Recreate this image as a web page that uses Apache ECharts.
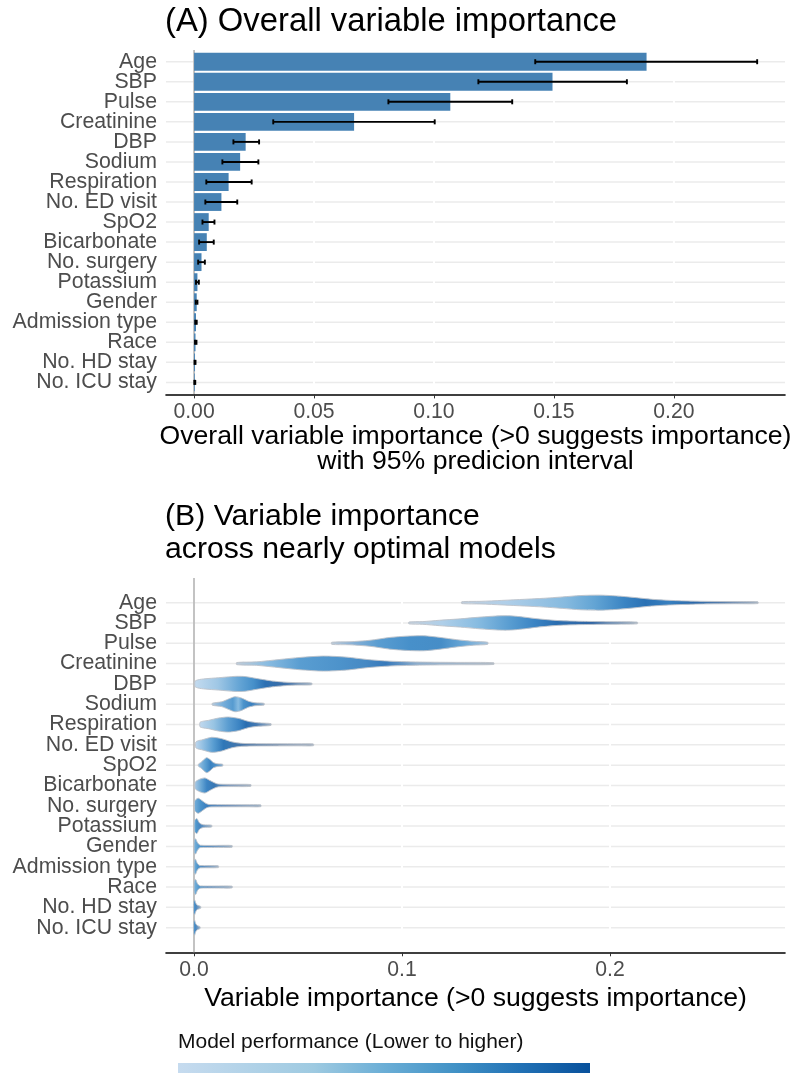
<!DOCTYPE html>
<html><head><meta charset="utf-8">
<script src="https://cdn.jsdelivr.net/npm/echarts@6/dist/echarts.min.js"></script>
<style>html,body{margin:0;padding:0;background:#fff}#c{width:795px;height:1073px}</style>
</head><body><div id="c"></div>
<script>
const categories = ['Age','SBP','Pulse','Creatinine','DBP','Sodium','Respiration','No. ED visit','SpO2','Bicarbonate','No. surgery','Potassium','Gender','Admission type','Race','No. HD stay','No. ICU stay'];
const importance = [0.1886,0.1494,0.1068,0.0667,0.0215,0.0192,0.0144,0.0114,0.0061,0.0053,0.0031,0.0014,0.0011,0.0008,0.0006,0.0004,0.0003];
const ciLow  = [0.1422,0.1185,0.0810,0.0330,0.0164,0.0118,0.0051,0.0047,0.0035,0.0021,0.0017,0.0008,0.0007,0.0005,0.0004,0.0002,0.0001];
const ciHigh = [0.2347,0.1804,0.1326,0.1003,0.0271,0.0268,0.0240,0.0180,0.0085,0.0082,0.0045,0.0020,0.0014,0.0011,0.0010,0.0006,0.0005];
const ticksA = [0, 0.05, 0.10, 0.15, 0.20];
const ticksB = [0, 0.1, 0.2];
// violin outlines: [importance value, relative density]
const violinProfiles = [
  [[0.1287,0.12],[0.138,0.18],[0.148,0.3],[0.159,0.45],[0.168,0.58],[0.177,0.76],[0.186,0.95],[0.195,1.0],[0.203,0.9],[0.212,0.68],[0.22,0.45],[0.229,0.3],[0.24,0.2],[0.25,0.16],[0.26,0.14],[0.2711,0.12]],
  [[0.1033,0.12],[0.11,0.18],[0.118,0.36],[0.128,0.55],[0.1375,0.78],[0.147,0.95],[0.152,0.95],[0.158,0.8],[0.165,0.56],[0.175,0.32],[0.186,0.22],[0.198,0.17],[0.2131,0.12]],
  [[0.0662,0.14],[0.075,0.2],[0.0846,0.4],[0.0942,0.78],[0.1023,0.95],[0.1103,1.0],[0.1183,0.78],[0.1263,0.48],[0.1343,0.26],[0.1412,0.14]],
  [[0.0205,0.14],[0.030,0.23],[0.0413,0.55],[0.051,0.82],[0.0622,1.0],[0.0734,0.86],[0.083,0.55],[0.0942,0.32],[0.11,0.2],[0.126,0.16],[0.1441,0.12]],
  [[0.0005,0.35],[0.002,0.55],[0.0053,0.68],[0.0117,0.82],[0.0197,1.0],[0.0245,0.98],[0.0309,0.68],[0.0373,0.4],[0.0438,0.23],[0.050,0.16],[0.0566,0.12]],
  [[0.0088,0.13],[0.0133,0.32],[0.0165,0.68],[0.0197,1.0],[0.0229,0.82],[0.0261,0.4],[0.0293,0.2],[0.0337,0.12]],
  [[0.0029,0.3],[0.0045,0.45],[0.0069,0.55],[0.0117,0.86],[0.0165,1.0],[0.0213,0.82],[0.0261,0.42],[0.0309,0.23],[0.037,0.12]],
  [[0.0008,0.35],[0.002,0.55],[0.0037,0.65],[0.0085,1.0],[0.0133,0.82],[0.0181,0.4],[0.0229,0.2],[0.03,0.15],[0.04,0.14],[0.05,0.13],[0.0574,0.12]],
  [[0.0021,0.13],[0.0035,0.4],[0.0045,0.68],[0.0061,1.0],[0.0077,0.75],[0.0093,0.35],[0.0109,0.2],[0.0138,0.12]],
  [[0.0005,0.4],[0.0015,0.65],[0.0029,0.85],[0.0053,1.0],[0.0077,0.65],[0.0101,0.32],[0.0117,0.18],[0.018,0.15],[0.0273,0.12]],
  [[0.0003,0.6],[0.0012,0.9],[0.0021,1.0],[0.0033,0.8],[0.0045,0.55],[0.0061,0.26],[0.0075,0.16],[0.015,0.14],[0.025,0.13],[0.0321,0.12]],
  [[0.0002,0.7],[0.0014,1.0],[0.0022,0.6],[0.0029,0.35],[0.0045,0.18],[0.0085,0.12]],
  [[0.0001,0.8],[0.0008,1.0],[0.0015,0.6],[0.0021,0.35],[0.003,0.16],[0.01,0.13],[0.0183,0.12]],
  [[0.0001,0.8],[0.0007,1.0],[0.0014,0.55],[0.002,0.3],[0.003,0.15],[0.0117,0.12]],
  [[0.0001,0.8],[0.0008,1.0],[0.0015,0.55],[0.0021,0.3],[0.003,0.15],[0.01,0.13],[0.0183,0.12]],
  [[-0.0002,0.7],[0.0003,1.0],[0.0008,0.6],[0.0015,0.3],[0.0032,0.12]],
  [[-0.0002,0.7],[0.0003,1.0],[0.0008,0.55],[0.0015,0.3],[0.0029,0.12]]
];
const smallStops = [[0,'#7db5dc'],[0.15,'#4f96cc'],[0.35,'#4a86bf'],[1,'#a5b5c6']];
const violinColors = [
  [[0,'#c0cddb'],[0.15,'#b0cfe9'],[0.35,'#86badf'],[0.45,'#62a4d4'],[0.55,'#3a84c3'],[0.62,'#2a71b4'],[0.7,'#3880c0'],[0.78,'#2a68aa'],[0.88,'#5a80ad'],[1,'#aab6c3']],
  [[0,'#c3cfdc'],[0.15,'#afcfe9'],[0.3,'#88bce1'],[0.45,'#569bd0'],[0.55,'#3a84c4'],[0.65,'#2a6db0'],[0.8,'#3367a4'],[1,'#aab6c3']],
  [[0,'#c0ccd8'],[0.12,'#8eb3d6'],[0.3,'#5a9dd1'],[0.5,'#4790ca'],[0.7,'#468dc7'],[0.85,'#6aa8d7'],[1,'#a9c3da']],
  [[0,'#c0ccd8'],[0.12,'#8abce1'],[0.25,'#599dd1'],[0.4,'#4d93cb'],[0.5,'#4689c4'],[0.58,'#3779ba'],[0.7,'#8eaecd'],[1,'#b3bcc6']],
  [[0,'#c4dbef'],[0.2,'#9fc7e5'],[0.38,'#65a5d5'],[0.5,'#4690ca'],[0.6,'#2c70b3'],[0.75,'#3a6da7'],[1,'#9fb0c2']],
  [[0,'#b8cadb'],[0.2,'#7ab0db'],[0.4,'#569bd0'],[0.5,'#86bbe1'],[0.6,'#4b93cb'],[0.75,'#3a80bf'],[1,'#9fb4c8']],
  [[0,'#c2d9ee'],[0.2,'#98c4e3'],[0.4,'#5b9dd1'],[0.55,'#3c84c3'],[0.65,'#296db0'],[0.8,'#487bb2'],[1,'#a9b7c6']],
  [[0,'#c0d8ee'],[0.08,'#8abbe0'],[0.16,'#569bd0'],[0.24,'#2f77b8'],[0.4,'#4a77a9'],[0.7,'#7a92b0'],[1,'#a5b2c2']],
  [[0,'#9cc3e2'],[0.3,'#5ca0d2'],[0.5,'#3a82c1'],[0.7,'#4c90c8'],[1,'#8fb0cf']],
  [[0,'#aacbe7'],[0.12,'#6aa7d5'],[0.22,'#3c84c3'],[0.35,'#3977b3'],[0.6,'#7f9bbd'],[1,'#a9b5c3']],
  [[0,'#79b1da'],[0.1,'#4a92ca'],[0.2,'#397dbe'],[0.5,'#5f88b8'],[1,'#9fb1c4']],
  smallStops, smallStops, smallStops, smallStops, smallStops, smallStops
];
const legendStops = [[0,'#c6dbef'],[0.33,'#9ecae1'],[0.5,'#6baed6'],[0.67,'#4292c6'],[0.83,'#2171b5'],[1,'#08519c']];

const FONT = '"Liberation Sans", Arial, Helvetica, sans-serif';
const chart = echarts.init(document.getElementById('c'), null, {renderer: 'canvas'});

function gridLines(gi) {
  return {
    type: 'custom', xAxisIndex: gi, yAxisIndex: gi, silent: true, z: 1,
    data: categories.map((c, i) => [0, i]), encode: {x: 0, y: 1},
    renderItem: (params, api) => {
      const y = api.coord([0, api.value(1)])[1];
      const cs = params.coordSys;
      return {type: 'line', shape: {x1: cs.x, y1: y, x2: cs.x + cs.width, y2: y}, style: {stroke: '#ebebeb', lineWidth: 1.5}};
    }
  };
}
function tickGaps(gi, ticks) {
  return {
    type: 'custom', xAxisIndex: gi, yAxisIndex: gi, silent: true, z: 1,
    data: ticks.filter(v => v > 0).map(v => [v, 0]), encode: {x: 0, y: 1},
    renderItem: (params, api) => {
      const x = api.coord([api.value(0), 0])[0];
      const cs = params.coordSys;
      return {type: 'line', shape: {x1: x, y1: cs.y, x2: x, y2: cs.y + cs.height}, style: {stroke: '#ffffff', lineWidth: 2}};
    }
  };
}
function zeroLine(gi, ext) {
  return {
    type: 'custom', xAxisIndex: gi, yAxisIndex: gi, silent: true, z: 1, clip: false,
    data: [[0, 0]], encode: {x: 0, y: 1},
    renderItem: (params, api) => {
      const x = api.coord([0, 0])[0];
      const band = api.size([0, 1])[1];
      const cs = params.coordSys;
      return {type: 'line', shape: {x1: x, y1: cs.y - ext * band, x2: x, y2: cs.y + cs.height + ext * band}, style: {stroke: '#bdbdbd', lineWidth: 1.8}};
    }
  };
}

const option = {
  animation: false,
  backgroundColor: '#ffffff',
  textStyle: {fontFamily: FONT},
  title: [
    {text: '(A) Overall variable importance', left: 165, top: 6, padding: 0,
     textStyle: {fontSize: 32.8, lineHeight: 32, fontWeight: 'normal', color: '#000', fontFamily: FONT}},
    {text: '(B) Variable importance\nacross nearly optimal models', left: 165, top: 500, padding: 0,
     textStyle: {fontSize: 30.2, lineHeight: 33, fontWeight: 'normal', color: '#000', fontFamily: FONT}}
  ],
  grid: [
    {left: 166, right: 10, top: 51.7, height: 340.7, outerBoundsMode: 'none', containLabel: false},
    {left: 166, right: 10, top: 592.5, height: 345.3, outerBoundsMode: 'none', containLabel: false}
  ],
  xAxis: [
    {gridIndex: 0, type: 'value', min: -0.0117, max: 0.2463, offset: 2,
     axisLine: {show: true, lineStyle: {color: '#000', width: 1.6}},
     axisTick: {show: true, customValues: ticksA, length: 4, lineStyle: {color: '#333', width: 1}},
     axisLabel: {customValues: ticksA, formatter: v => v.toFixed(2), color: '#4d4d4d', fontSize: 21.2, margin: 7, fontFamily: FONT},
     splitLine: {show: false},
     name: 'Overall variable importance (>0 suggests importance)\nwith 95% predicion interval',
     nameLocation: 'middle', nameGap: 30,
     nameTextStyle: {fontSize: 26.6, lineHeight: 25, color: '#000', fontFamily: FONT}},
    {gridIndex: 1, type: 'value', min: -0.01346, max: 0.2841, offset: 14.5,
     axisLine: {show: true, lineStyle: {color: '#000', width: 1.6}},
     axisTick: {show: true, customValues: ticksB, length: 4, lineStyle: {color: '#333', width: 1}},
     axisLabel: {customValues: ticksB, formatter: v => v.toFixed(1), color: '#4d4d4d', fontSize: 21.2, margin: 7, fontFamily: FONT},
     splitLine: {show: false},
     name: 'Variable importance (>0 suggests importance)',
     nameLocation: 'middle', nameGap: 33,
     nameTextStyle: {fontSize: 26.6, lineHeight: 26, color: '#000', fontFamily: FONT}}
  ],
  yAxis: [
    {gridIndex: 0, type: 'category', data: categories, inverse: true,
     axisLine: {show: false}, axisTick: {show: false}, splitLine: {show: false},
     axisLabel: {interval: 0, color: '#4d4d4d', fontSize: 21.3, margin: 9, fontFamily: FONT}},
    {gridIndex: 1, type: 'category', data: categories, inverse: true,
     axisLine: {show: false}, axisTick: {show: false}, splitLine: {show: false},
     axisLabel: {interval: 0, color: '#4d4d4d', fontSize: 21.3, margin: 9, fontFamily: FONT}}
  ],
  series: [
    gridLines(0), tickGaps(0, ticksA), zeroLine(0, 0.08),
    {type: 'bar', xAxisIndex: 0, yAxisIndex: 0, data: importance, barWidth: '89%', z: 2,
     itemStyle: {color: '#4682b4'}, silent: true},
    {type: 'custom', xAxisIndex: 0, yAxisIndex: 0, z: 3, silent: true,
     data: categories.map((c, i) => [i, ciLow[i], ciHigh[i]]), encode: {y: 0, x: [1, 2]},
     renderItem: (params, api) => {
       const i = api.value(0);
       const p1 = api.coord([api.value(1), i]);
       const p2 = api.coord([api.value(2), i]);
       const st = {stroke: '#000', lineWidth: 1.9};
       return {type: 'group', children: [
         {type: 'line', shape: {x1: p1[0], y1: p1[1], x2: p2[0], y2: p2[1]}, style: st},
         {type: 'line', shape: {x1: p1[0], y1: p1[1] - 2.5, x2: p1[0], y2: p1[1] + 2.5}, style: st},
         {type: 'line', shape: {x1: p2[0], y1: p2[1] - 2.5, x2: p2[0], y2: p2[1] + 2.5}, style: st}
       ]};
     }},
    gridLines(1), tickGaps(1, ticksB), zeroLine(1, 0.71),
    {type: 'custom', xAxisIndex: 1, yAxisIndex: 1, z: 3, silent: true,
     data: categories.map((c, i) => [violinProfiles[i][0][0], i]), encode: {x: 0, y: 1},
     renderItem: (params, api) => {
       const i = params.dataIndex;
       const prof = violinProfiles[i];
       const band = api.size([0, 1])[1];
       const half = 0.37 * band;
       const top = prof.map(([x, w]) => { const p = api.coord([x, i]); return [p[0], p[1] - w * half]; });
       const bot = prof.slice().reverse().map(([x, w]) => { const p = api.coord([x, i]); return [p[0], p[1] + w * half]; });
       const stops = violinColors[i].map(([o, c]) => ({offset: o, color: c}));
       return {type: 'polygon', shape: {points: top.concat(bot), smooth: 0.25},
         style: {fill: new echarts.graphic.LinearGradient(0, 0, 1, 0, stops), stroke: '#bcc2c9', lineWidth: 0.9}};
     }}
  ],
  graphic: [
    {type: 'text', left: 178, top: 1032, silent: true,
     style: {text: 'Model performance (Lower to higher)', fontSize: 21, fill: '#111', fontFamily: FONT}},
    {type: 'rect', silent: true, shape: {x: 178, y: 1063, width: 412, height: 20},
     style: {fill: new echarts.graphic.LinearGradient(0, 0, 1, 0, legendStops.map(([o, c]) => ({offset: o, color: c})))}}
  ]
};
chart.setOption(option);
</script>
</body></html>
